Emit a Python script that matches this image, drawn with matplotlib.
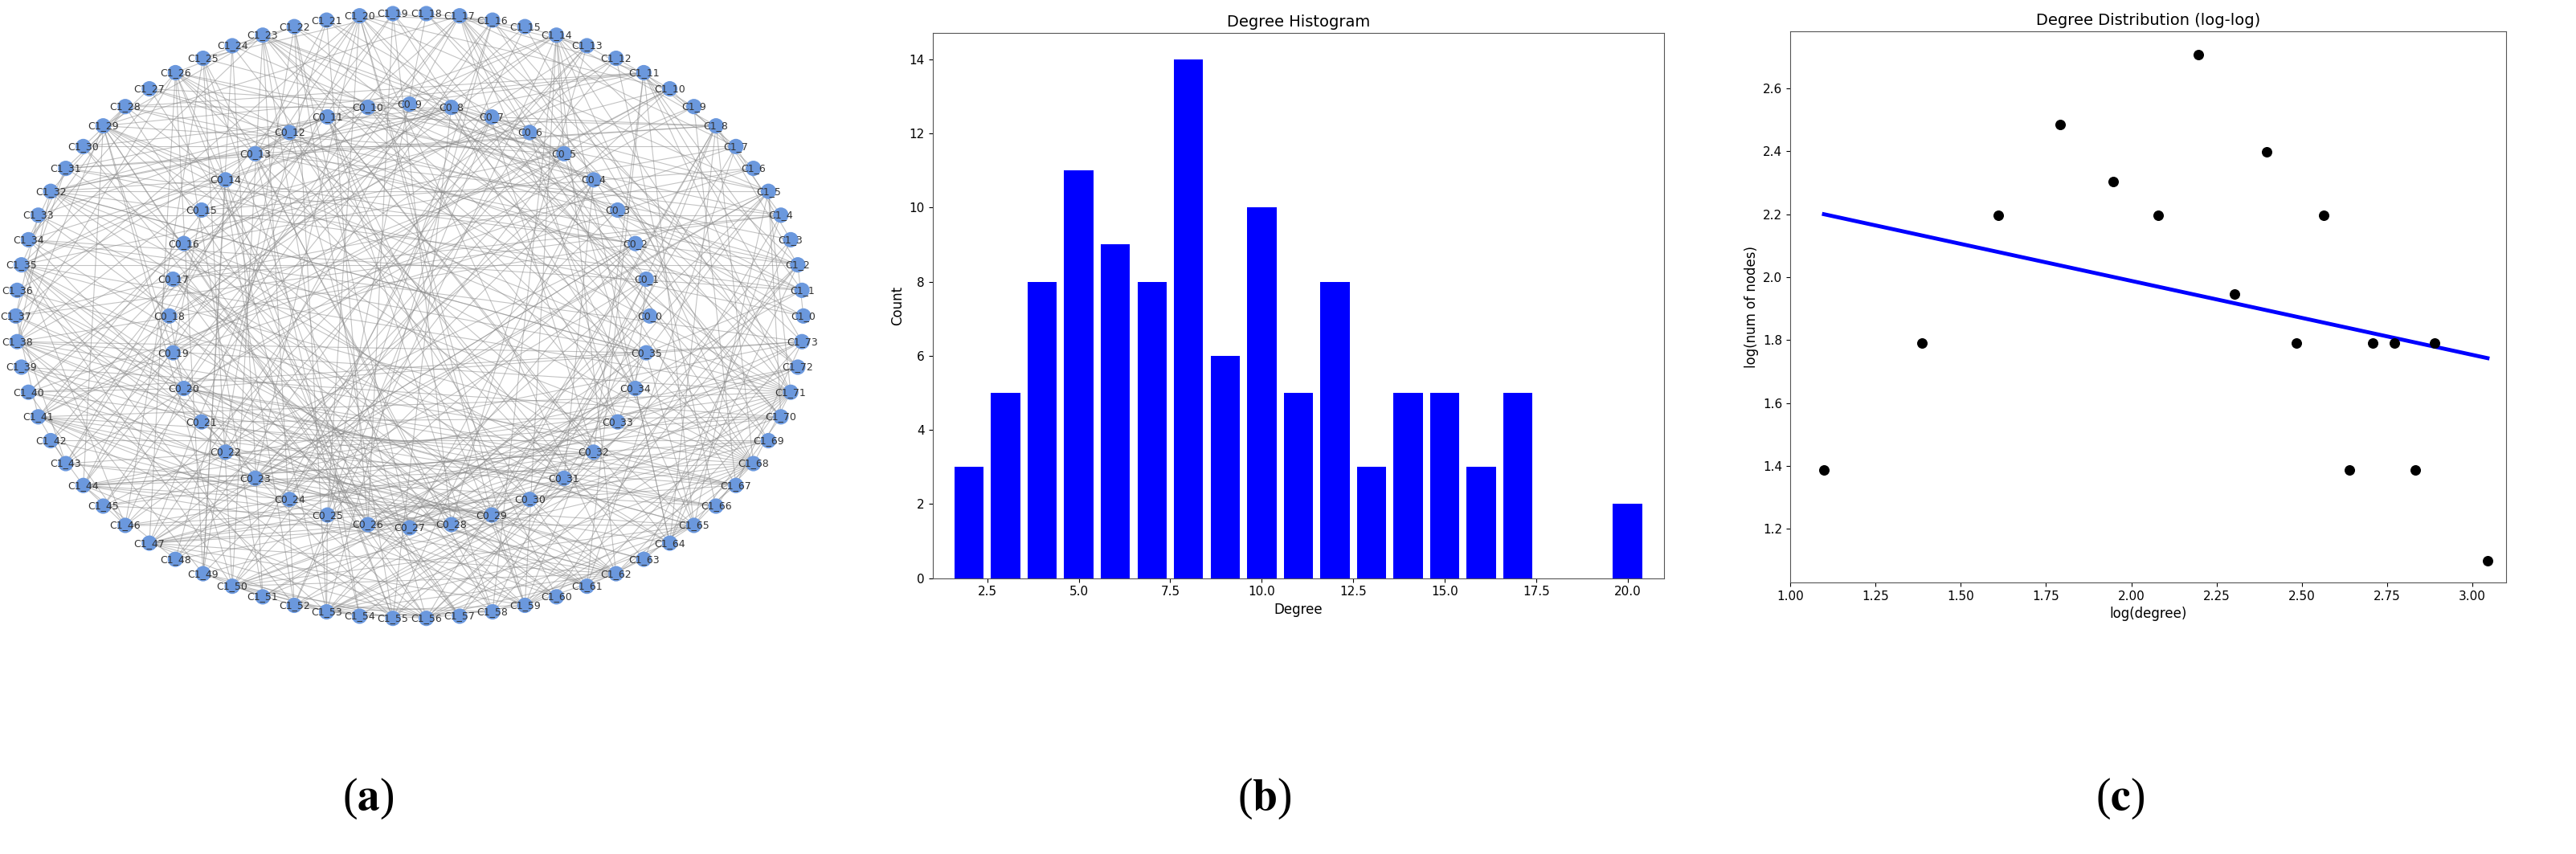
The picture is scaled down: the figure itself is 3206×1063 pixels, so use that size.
import numpy as np
import matplotlib
matplotlib.use("Agg")
import matplotlib.pyplot as plt

# ---- data ----
hist_degree = [2, 3, 4, 5, 6, 7, 8, 9, 10, 11, 12, 13, 14, 15, 16, 17, 20]
hist_count = [3, 5, 8, 11, 9, 8, 14, 6, 10, 5, 8, 3, 5, 5, 3, 5, 2]

ll_degree = [3, 4, 5, 6, 7, 8, 9, 10, 11, 12, 13, 14, 15, 16, 17, 18, 21]
ll_count = [4, 6, 9, 12, 10, 9, 15, 7, 11, 6, 9, 4, 6, 6, 4, 6, 3]
fit_slope = -0.235
fit_intercept = 2.458

n_inner = 36
n_outer = 74
inner_labels = [f"C0_{i}" for i in range(n_inner)]
outer_labels = [f"C1_{i}" for i in range(n_outer)]

# ---- build graph edges from degree sequence (Havel-Hakimi) ----
degseq = []
for d, c in zip(hist_degree, hist_count):
    degseq += [d] * c
N = len(degseq)
perm = [(i * 37) % N for i in range(N)]
deg_of_node = [degseq[p] for p in perm]
rem = list(deg_of_node)
edges = []
while True:
    order = sorted(range(N), key=lambda k: (-rem[k], (k * 53) % N))
    v = order[0]
    if rem[v] <= 0:
        break
    d = rem[v]
    rem[v] = 0
    for u in order[1:1 + d]:
        if rem[u] > 0:
            rem[u] -= 1
            edges.append((v, u))

pos = np.zeros((N, 2))
for i in range(n_inner):
    a = 2 * np.pi * i / n_inner
    pos[i] = [0.61 * np.cos(a), 0.70 * np.sin(a)]
for j in range(n_outer):
    a = 2 * np.pi * j / n_outer
    pos[n_inner + j] = [np.cos(a), np.sin(a)]

fig = plt.figure(figsize=(32.06, 10.63), dpi=100)

# ---- panel a ----
axa = fig.add_axes([0.0, 0.265, 0.318, 0.73])
for (u, v) in edges:
    axa.plot([pos[u, 0], pos[v, 0]], [pos[u, 1], pos[v, 1]], color="#888888", lw=0.8, alpha=0.5, zorder=1)
axa.scatter(pos[:, 0], pos[:, 1], s=190, color="#6b98dd", zorder=2, edgecolors="none")
labels = inner_labels + outer_labels
for k in range(N):
    axa.text(pos[k, 0], pos[k, 1], labels[k], fontsize=9, ha="center", va="center", color="#333333", zorder=3)
axa.set_xlim(-1.04, 1.04)
axa.set_ylim(-1.03, 1.03)
axa.axis("off")

# ---- panel b ----
axb = fig.add_axes([0.362, 0.323, 0.284, 0.638])
axb.bar(hist_degree, hist_count, width=0.8, color="blue")
axb.set_xlim(1.0, 21.0)
axb.set_ylim(0, 14.7)
axb.set_xticks([2.5, 5.0, 7.5, 10.0, 12.5, 15.0, 17.5, 20.0])
axb.set_yticks(range(0, 15, 2))
axb.set_title("Degree Histogram", fontsize=14)
axb.set_xlabel("Degree", fontsize=12)
axb.set_ylabel("Count", fontsize=12)
axb.tick_params(labelsize=11)

# ---- panel c ----
axc = fig.add_axes([0.695, 0.318, 0.278, 0.645])
lx = np.log(ll_degree)
ly = np.log(ll_count)
axc.scatter(lx, ly, color="black", s=70, zorder=3)
xs = np.array([lx.min(), lx.max()])
axc.plot(xs, fit_slope * xs + fit_intercept, color="blue", lw=3.5)
axc.set_xlim(1.0, 3.1)
axc.set_ylim(1.03, 2.78)
axc.set_xticks([1.00, 1.25, 1.50, 1.75, 2.00, 2.25, 2.50, 2.75, 3.00])
axc.set_yticks([1.2, 1.4, 1.6, 1.8, 2.0, 2.2, 2.4, 2.6])
axc.set_title("Degree Distribution (log-log)", fontsize=14)
axc.set_xlabel("log(degree)", fontsize=12)
axc.set_ylabel("log(num of nodes)", fontsize=12)
axc.tick_params(labelsize=11)

for ax in (axb, axc):
    for s in ax.spines.values():
        s.set_color("#555555")

# ---- panel labels ----
plt.rcParams["mathtext.fontset"] = "stix"
for x, l in [(0.143, "a"), (0.491, "b"), (0.823, "c")]:
    fig.text(x, 0.065, r"($\mathbf{%s}$)" % l, fontsize=40, ha="center", va="center", family="Liberation Serif")

fig.savefig("out.png", dpi=100)
